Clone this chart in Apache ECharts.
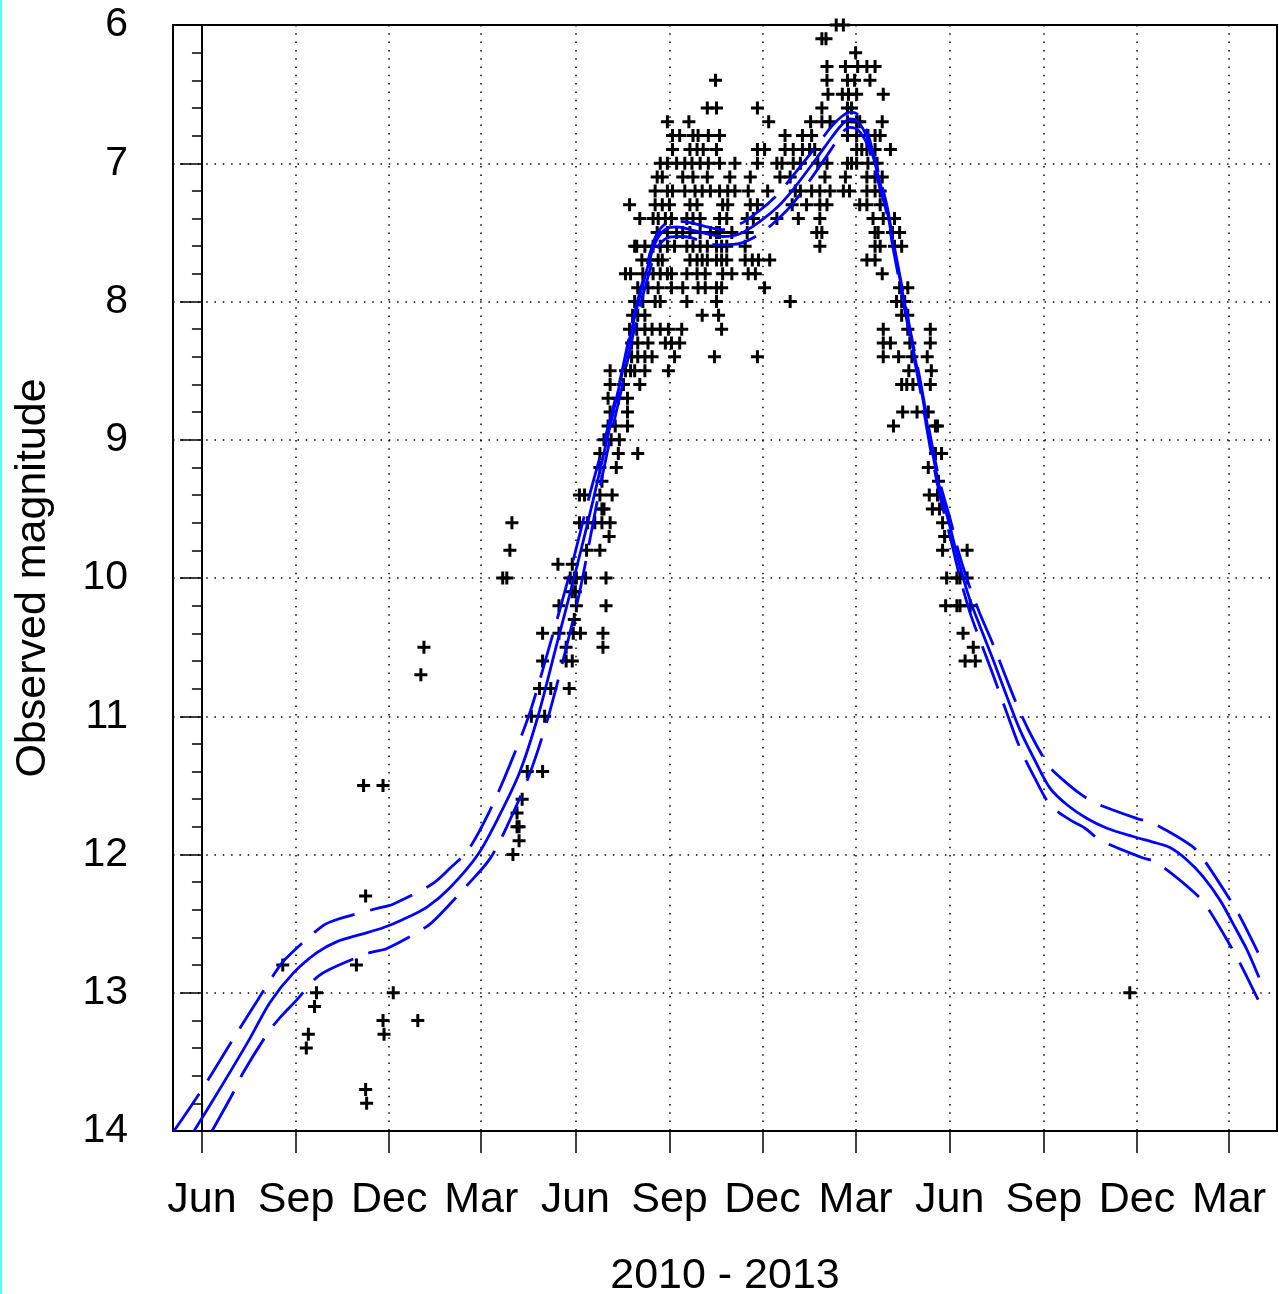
<!DOCTYPE html>
<html>
<head>
<meta charset="utf-8">
<script src="https://cdn.jsdelivr.net/npm/echarts@6/dist/echarts.min.js"></script>
<style>
html,body{margin:0;padding:0;background:#fff;}
#chart{width:1279px;height:1294px;}
</style>
</head>
<body>
<div id="chart"></div>
<script>
// Days are counted from 2010-06-01
const tickDates = ['2010-06-01','2010-09-01','2010-12-01','2011-03-01','2011-06-01','2011-09-01','2011-12-01','2012-03-01','2012-06-01','2012-09-01','2012-12-01','2013-03-01'];
const tickLabels = ['Jun','Sep','Dec','Mar','Jun','Sep','Dec','Mar','Jun','Sep','Dec','Mar'];
const xMinDay = -28.3;
const xMaxDay = 1050.9;
const yTicks = [6, 7, 8, 9, 10, 11, 12, 13, 14];

// Observations: [magnitude, [days...]]
const obs = [
  [6.0, [620, 627]],
  [6.1, [606, 610]],
  [6.2, [639]],
  [6.3, [611, 629, 641, 650, 658]],
  [6.4, [502, 611, 631, 638, 653]],
  [6.5, [612, 626, 632, 640, 666]],
  [6.6, [494, 503, 543, 606, 631, 635]],
  [6.7, [455, 476, 554, 595, 606, 614, 631, 640, 643, 665]],
  [6.8, [460, 467, 480, 485, 495, 506, 570, 587, 596, 631, 640, 651, 658, 663]],
  [6.9, [460, 477, 484, 490, 503, 543, 550, 570, 578, 587, 594, 599, 640, 645, 650, 658, 673]],
  [7.0, [448, 455, 464, 472, 479, 487, 495, 506, 521, 543, 562, 567, 578, 585, 602, 611, 631, 635, 640, 651, 660]],
  [7.1, [445, 450, 470, 480, 494, 516, 536, 565, 575, 609, 629, 650, 658, 665]],
  [7.2, [443, 455, 460, 472, 482, 489, 497, 506, 514, 521, 534, 553, 580, 585, 596, 604, 614, 627, 633, 650, 658, 663]],
  [7.3, [418, 443, 450, 457, 477, 484, 509, 514, 536, 543, 577, 591, 604, 611, 643, 650, 663]],
  [7.4, [428, 441, 446, 453, 459, 474, 480, 487, 506, 513, 533, 539, 562, 583, 604, 656, 666, 677]],
  [7.5, [445, 455, 464, 470, 477, 487, 497, 503, 506, 518, 533, 601, 606, 658, 661, 675, 682]],
  [7.6, [423, 425, 433, 441, 448, 455, 462, 474, 480, 487, 494, 503, 508, 513, 531, 604, 658, 663, 677, 684]],
  [7.7, [430, 438, 446, 450, 477, 484, 489, 494, 503, 508, 513, 531, 538, 544, 555, 650, 658]],
  [7.8, [414, 419, 431, 441, 448, 455, 459, 474, 484, 492, 509, 518, 534, 541, 665]],
  [7.9, [426, 436, 446, 459, 470, 485, 492, 503, 508, 550, 682, 690]],
  [8.0, [423, 431, 443, 448, 474, 503, 575, 679, 684, 687]],
  [8.1, [421, 426, 433, 489, 505, 684, 690]],
  [8.2, [418, 425, 433, 440, 448, 456, 469, 508, 666, 690, 712]],
  [8.3, [420, 426, 436, 453, 459, 467, 666, 673, 692, 712]],
  [8.4, [420, 426, 433, 440, 462, 501, 543, 666, 681, 694, 709]],
  [8.5, [399, 414, 419, 423, 433, 456, 691, 713]],
  [8.6, [399, 412, 428, 684, 689, 695, 712]],
  [8.7, [397, 407, 416]],
  [8.8, [399, 416, 685, 699, 710]],
  [8.9, [397, 404, 416, 676, 717, 719]],
  [9.0, [393, 400, 408]],
  [9.1, [389, 407, 426, 717, 723]],
  [9.2, [389, 405, 710]],
  [9.3, [391, 720]],
  [9.4, [369, 374, 389, 401, 711, 719]],
  [9.5, [391, 393, 714, 721]],
  [9.6, [303, 369, 377, 384, 391, 399, 724]],
  [9.7, [398, 726]],
  [9.8, [301, 376, 389, 724, 748]],
  [9.9, [348, 362]],
  [10.0, [294, 298, 360, 364, 366, 375, 395, 728, 738, 741, 748]],
  [10.1, [362, 365]],
  [10.2, [349, 366, 395, 727, 738, 741, 751]],
  [10.3, [364]],
  [10.4, [333, 349, 363, 370, 392, 744]],
  [10.5, [217, 356, 392, 754]],
  [10.6, [333, 356, 362, 746, 756]],
  [10.7, [214]],
  [10.8, [330, 341, 359]],
  [11.0, [322, 335]],
  [11.4, [318, 333]],
  [11.5, [158, 177]],
  [11.6, [313]],
  [11.7, [308]],
  [11.8, [308, 310]],
  [11.9, [310]],
  [12.0, [304]],
  [12.3, [160]],
  [12.8, [79, 151]],
  [13.0, [112, 187, 907]],
  [13.1, [110]],
  [13.2, [177, 211]],
  [13.3, [104, 178]],
  [13.4, [102]],
  [13.7, [160]],
  [13.8, [161]]
];

// Fitted light curve [day, magnitude]
const fitCurve = [
  [-7.8,14.00],[19.6,13.67],[46.9,13.33],[66.5,13.07],[89.0,12.86],[112.4,12.71],[132.0,12.63],
  [154.5,12.58],[177.0,12.53],[196.5,12.47],[220.0,12.38],[242.4,12.24],[269.8,12.00],[291.3,11.71],
  [310.9,11.40],[328.5,11.00],[346.1,10.50],[363.7,10.00],[382.3,9.44],[395.9,9.00],[408.6,8.59],
  [421.4,8.16],[433.1,7.82],[442.9,7.58],[452.6,7.48],[464.4,7.46],[477.1,7.48],[493.7,7.51],
  [509.3,7.53],[526.0,7.51],[545.5,7.42],[562.1,7.32],[577.8,7.19],[601.2,6.96],[615.9,6.81],
  [625.7,6.72],[633.5,6.68],[641.3,6.70],[650.1,6.81],[656.0,6.95],[662.8,7.14],[669.7,7.34],
  [675.5,7.58],[682.4,7.84],[692.2,8.23],[701.9,8.59],[711.7,9.00],[721.5,9.36],[731.3,9.63],
  [741.1,9.92],[750.8,10.16],[760.6,10.35],[773.3,10.59],[787.0,10.86],[799.7,11.10],[814.3,11.32],
  [829.0,11.52],[845.6,11.64],[865.2,11.74],[884.7,11.81],[910.2,11.87],[929.7,11.91],[946.3,11.95],
  [962.9,12.04],[978.6,12.16],[995.2,12.33],[1007.9,12.50],[1021.6,12.69],[1033.3,12.89]
];
// Upper (brighter) confidence limit
const fitUpper = [
  [-27.4,14.00],[0,13.70],[34.2,13.29],[54.7,13.05],[68.4,12.89],[81.1,12.76],[117.3,12.52],
  [132.0,12.47],[171.1,12.39],[186.7,12.36],[225.8,12.21],[242.4,12.10],[260.0,11.97],[281.6,11.68],
  [301.1,11.35],[320.7,10.97],[340.2,10.48],[359.8,9.96],[379.3,9.39],[394.0,8.99],[408.6,8.57],
  [421.4,8.13],[433.1,7.79],[442.9,7.54],[452.6,7.44],[464.4,7.42],[477.1,7.43],[493.7,7.46],
  [509.3,7.48],[526.0,7.44],[545.5,7.34],[562.1,7.23],[577.8,7.09],[601.2,6.87],[615.9,6.73],
  [625.7,6.66],[633.5,6.63],[641.3,6.65],[650.1,6.77],[656.0,6.92],[662.8,7.11],[669.7,7.31],
  [675.5,7.55],[682.4,7.82],[692.2,8.20],[701.9,8.56],[711.7,8.96],[721.5,9.31],[731.3,9.57],
  [741.1,9.85],[750.8,10.07],[760.6,10.26],[773.3,10.48],[787.0,10.74],[799.7,10.97],[814.3,11.19],
  [829.0,11.37],[841.7,11.46],[858.3,11.56],[874.0,11.63],[914.1,11.74],[928.7,11.77],[967.8,11.94],
  [980.5,12.05],[1006.9,12.35],[1014.8,12.45],[1032.4,12.71]
];
// Lower (fainter) confidence limit
const fitLower = [
  [9.8,14.00],[32.3,13.70],[40.1,13.58],[64.5,13.29],[76.3,13.18],[92.9,13.05],[110.5,12.90],
  [125.1,12.83],[164.2,12.71],[180.9,12.68],[220.0,12.52],[234.6,12.42],[257.1,12.24],[281.6,12.03],
  [301.1,11.75],[320.7,11.41],[338.3,11.01],[354.9,10.54],[369.5,10.09],[385.2,9.49],[397.9,9.03],
  [410.6,8.62],[423.3,8.18],[435.0,7.85],[444.8,7.62],[454.6,7.54],[466.3,7.53],[479.0,7.54],
  [493.7,7.58],[509.3,7.59],[526.0,7.58],[545.5,7.51],[562.1,7.41],[577.8,7.29],[601.2,7.05],
  [615.9,6.89],[625.7,6.78],[633.5,6.74],[641.3,6.76],[650.1,6.86],[656.0,7.00],[662.8,7.18],
  [669.7,7.37],[675.5,7.61],[682.4,7.88],[692.2,8.26],[701.9,8.63],[711.7,9.05],[721.5,9.41],
  [731.3,9.70],[741.1,10.00],[750.8,10.25],[760.6,10.45],[773.3,10.70],[787.0,10.98],[799.7,11.23],
  [814.3,11.45],[829.0,11.64],[848.6,11.75],[863.2,11.81],[878.9,11.90],[918.0,12.02],[933.6,12.06],
  [970.8,12.28],[983.5,12.39],[1006.9,12.68],[1015.7,12.80],[1032.4,13.05]
];

const DAY = 86400000;
const epoch = Date.parse('2010-06-01T00:00:00Z');
const tickDays = tickDates.map(s => Math.round((Date.parse(s + 'T00:00:00Z') - epoch) / DAY));
const obsPoints = [];
obs.forEach(r => r[1].forEach(d => obsPoints.push([d, r[0]])));

const FONT = 'Liberation Sans, Arial, Helvetica, sans-serif';
const FS = 43;
const plus = 'path://M5,0H8V5H13V8H8V13H5V8H0V5H5Z';

const chart = echarts.init(document.getElementById('chart'), null, {renderer: 'canvas'});
chart.setOption({
  backgroundColor: '#ffffff',
  animation: false,
  textStyle: {fontFamily: FONT},
  graphic: [{type: 'rect', left: 0, top: 0, shape: {width: 2, height: 1294}, style: {fill: '#55ffff'}, silent: true}],
  grid: {left: 173, right: 2, top: 25, bottom: 163, show: true, borderColor: '#000', borderWidth: 2,
    backgroundColor: 'transparent', containLabel: false, outerBoundsMode: 'none'},
  xAxis: {
    type: 'value', min: xMinDay, max: xMaxDay,
    name: '2010 - 2013', nameLocation: 'middle', nameGap: 124,
    nameTextStyle: {fontSize: FS, color: '#000', fontFamily: FONT},
    axisLine: {show: true, onZero: false, lineStyle: {color: '#000', width: 2}},
    axisTick: {show: true, length: 22, customValues: tickDays, lineStyle: {color: '#000', width: 1.5}},
    axisLabel: {show: true, margin: 48, customValues: tickDays, fontSize: FS, color: '#000', fontFamily: FONT,
      formatter: v => { const i = tickDays.findIndex(t => Math.abs(t - v) < 0.5); return i >= 0 ? tickLabels[i] : ''; }},
    splitLine: {show: true, lineStyle: {color: '#000', width: 1.5, type: [1.5, 6.8]}}
  },
  yAxis: {
    type: 'value', inverse: true, min: 6, max: 14, interval: 1,
    name: 'Observed magnitude', nameLocation: 'middle', nameGap: 118, nameRotate: 90,
    nameTextStyle: {fontSize: FS, color: '#000', fontFamily: FONT},
    axisLine: {show: true, lineStyle: {color: '#000', width: 2}},
    axisTick: {show: true, length: 22, lineStyle: {color: '#000', width: 1.5}},
    minorTick: {show: true, splitNumber: 5, length: 10, lineStyle: {color: '#000', width: 1.5}},
    axisLabel: {show: true, margin: 45, fontSize: 41, color: '#000', fontFamily: FONT, padding: [6, 0, 0, 0],
      formatter: v => yTicks.indexOf(v) >= 0 ? String(v) : ''},
    splitLine: {show: true, lineStyle: {color: '#000', width: 1.5, type: [1.5, 6.8]}}
  },
  series: [
    {type: 'scatter', name: 'obs', data: obsPoints, symbol: plus, symbolSize: 13,
      itemStyle: {color: '#000', opacity: 1}, z: 2, silent: true},
    {type: 'line', name: 'fit', data: fitCurve, smooth: 0.3, symbol: 'none', clip: true,
      lineStyle: {color: '#0000ff', width: 2.8}, z: 3, silent: true},
    {type: 'line', name: 'upper', data: fitUpper, smooth: 0.3, symbol: 'none', clip: true,
      lineStyle: {color: '#0000ff', width: 2.8, type: [45, 16]}, z: 3, silent: true},
    {type: 'line', name: 'lower', data: fitLower, smooth: 0.3, symbol: 'none', clip: true,
      lineStyle: {color: '#0000ff', width: 2.8, type: [45, 16]}, z: 3, silent: true}
  ]
});
</script>
</body>
</html>
